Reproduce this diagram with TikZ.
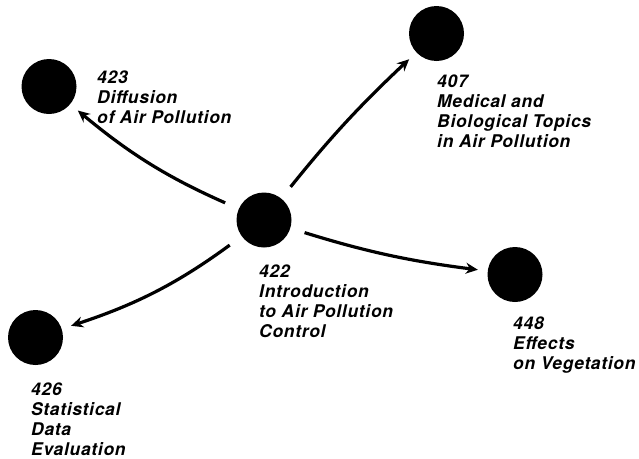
\documentclass[tikz,border=0pt]{standalone}
\usepackage{fontspec}
\setmainfont{TeX Gyre Heros}[LetterSpace=4]
\usetikzlibrary{arrows.meta}
\begin{document}
\begin{tikzpicture}[x=1pt,y=-1pt,
  dot/.style={circle, fill=black, minimum size=55pt, inner sep=0pt, outer sep=0pt},
  lbl/.style={anchor=base west, inner sep=0pt, font=\fontsize{17.5}{20}\selectfont\bfseries\itshape},
  link/.style={line width=3.2pt, -{Stealth[length=12pt,width=11pt,inset=4pt]}, shorten <=15pt, shorten >=10pt}]
\useasboundingbox (0,0) rectangle (639,458);
\node[dot] (n422) at (264,220) {};
\node[dot] (n423) at (49,86.5) {};
\node[dot] (n407) at (436.5,33.5) {};
\node[dot] (n448) at (515,274.5) {};
\node[dot] (n426) at (35.5,337.5) {};
\node[lbl] (t423) at (97,83) {\begin{tabular}[t]{@{}l@{}}423\\Diffusion\\of Air Pollution\end{tabular}};
\node[lbl] (t407) at (437,87) {\begin{tabular}[t]{@{}l@{}}407\\Medical and\\Biological Topics\\in Air Pollution\end{tabular}};
\node[lbl] (t422) at (259,277) {\begin{tabular}[t]{@{}l@{}}422\\Introduction\\to Air Pollution\\Control\end{tabular}};
\node[lbl] (t448) at (513,329) {\begin{tabular}[t]{@{}l@{}}448\\Effects\\on Vegetation\end{tabular}};
\node[lbl] (t426) at (31,395) {\begin{tabular}[t]{@{}l@{}}426\\Statistical\\Data\\Evaluation\end{tabular}};
\draw[link] (n422) to[bend left=8] (n423);
\draw[link] (n422) to[bend left=4] (n407);
\draw[link] (n422) to[bend right=5] (n448);
\draw[link] (n422) to[bend left=9] (n426);
\end{tikzpicture}
\end{document}
